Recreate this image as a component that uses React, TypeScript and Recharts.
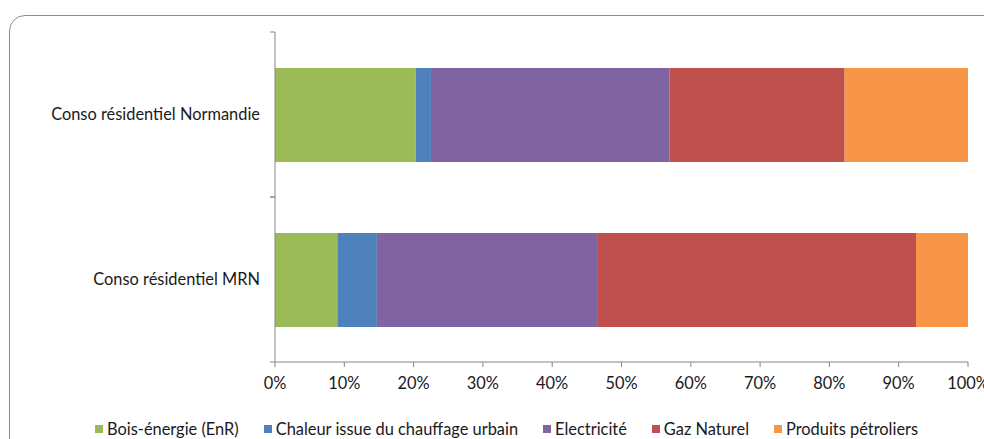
import React from 'react'
import { BarChart, Bar, XAxis, YAxis } from 'recharts'

const categories = ['Conso résidentiel Normandie', 'Conso résidentiel MRN']
const seriesNames = [
  'Bois-énergie (EnR)',
  'Chaleur issue du chauffage urbain',
  'Electricité',
  'Gaz Naturel',
  'Produits pétroliers',
]
const bois = [20.3, 9.0]
const chaleur = [2.2, 5.7]
const electricite = [34.4, 31.9]
const gaz = [25.3, 45.9]
const petrole = [17.8, 7.5]
const xTicks = [0, 10, 20, 30, 40, 50, 60, 70, 80, 90, 100]

const COLORS = ['#9BBB59', '#4F81BD', '#8064A2', '#C0504D', '#F79646']
const FONT = 'Lato, sans-serif'
const FS = 16.4
const AXIS = '#868686'

const seriesValues = [bois, chaleur, electricite, gaz, petrole]
const data = categories.map((name, i) => {
  const row: Record<string, string | number> = { name }
  seriesNames.forEach((s, j) => {
    row[s] = seriesValues[j][i]
  })
  return row
})

const W = 984
const H = 439
const X_H = 30
const M = { top: 32, right: 16, bottom: 77 - X_H, left: 0 }
const Y_W = 275
const HALF_BAND = (H - 32 - 77) / categories.length / 2

function CategoryTick(props: any) {
  const { x, y, payload } = props
  // x sits 8px left of the axis line (tick size + margin)
  return (
    <g>
      <text x={x - 7} y={y} dy={5} textAnchor="end" fontSize={FS} fontFamily={FONT} fill="#1a1a1a">
        {payload.value}
      </text>
      <line x1={x + 3} x2={x + 8} y1={y - HALF_BAND} y2={y - HALF_BAND} stroke={AXIS} />
      <line x1={x + 3} x2={x + 8} y1={y + HALF_BAND} y2={y + HALF_BAND} stroke={AXIS} />
    </g>
  )
}

export default function App() {
  return (
    <div style={{ position: 'absolute', left: 0, top: 0, width: W, height: H, overflow: 'hidden', background: '#fff' }}>
      <div
        style={{
          position: 'absolute',
          left: 9,
          top: 15,
          width: 1000,
          height: 460,
          border: '1.5px solid #8c8c8c',
          borderRadius: 16,
        }}
      />
      <div style={{ position: 'absolute', left: 0, top: 0 }}>
        <BarChart width={W} height={H} data={data} layout="vertical" margin={M} barSize={94}>
          <XAxis
            type="number"
            domain={[0, 100]}
            ticks={xTicks}
            interval={0}
            height={X_H}
            tickFormatter={(v) => `${v}%`}
            stroke={AXIS}
            tickSize={5}
            tick={{ fontSize: FS, fontFamily: FONT, fill: '#1a1a1a', dy: 8 }}
          />
          <YAxis
            type="category"
            dataKey="name"
            width={Y_W}
            stroke={AXIS}
            tickLine={false}
            tick={<CategoryTick />}
          />
          {seriesNames.map((s, i) => (
            <Bar key={s} dataKey={s} stackId="a" fill={COLORS[i]} isAnimationActive={false} />
          ))}
        </BarChart>
      </div>
      <div
        style={{
          position: 'absolute',
          left: 95,
          top: 419,
          display: 'flex',
          fontFamily: FONT,
          fontSize: FS,
          color: '#1a1a1a',
          whiteSpace: 'nowrap',
        }}
      >
        {seriesNames.map((s, i) => (
          <div key={s} style={{ display: 'flex', alignItems: 'center', marginRight: 25 }}>
            <span style={{ display: 'inline-block', width: 8, height: 8, background: COLORS[i], marginRight: 4 }} />
            <span>{s}</span>
          </div>
        ))}
      </div>
    </div>
  )
}
